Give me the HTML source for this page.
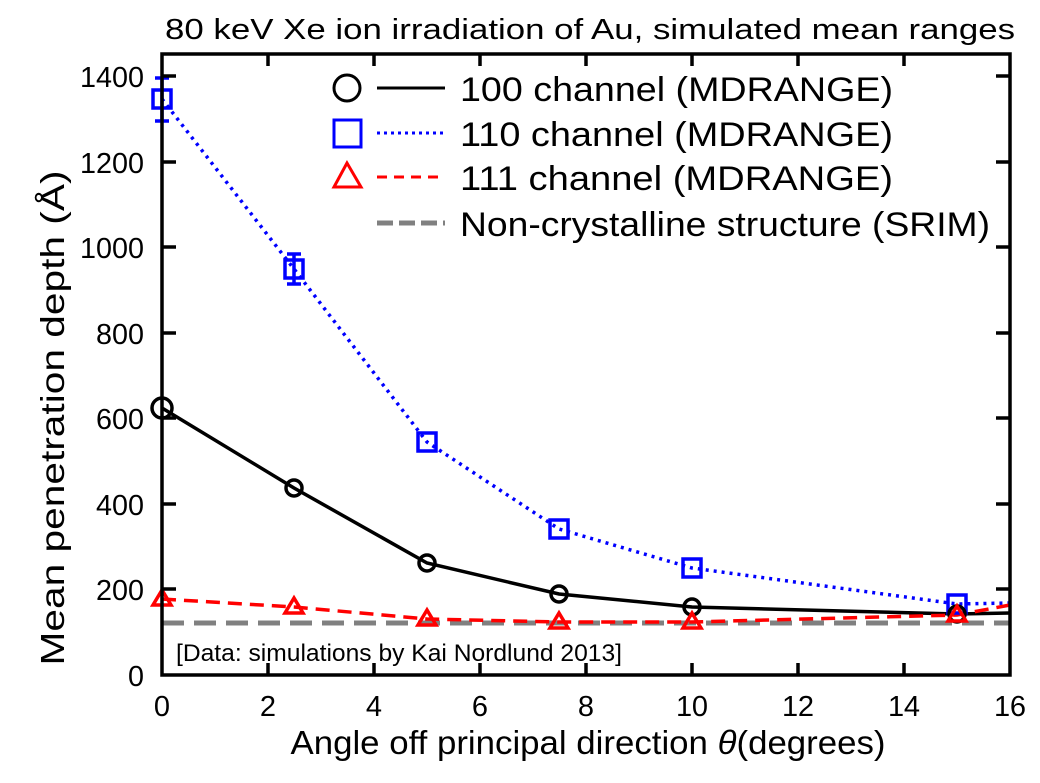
<!DOCTYPE html>
<html><head><style>body{margin:0;background:#fff}svg{display:block}</style></head><body>
<svg width="1040" height="783" xmlns="http://www.w3.org/2000/svg" style="font-family:'Liberation Sans',Arial,sans-serif">
<rect width="1040" height="783" fill="#fff"/>
<text x="590" y="39" font-size="29" text-anchor="middle" textLength="850" lengthAdjust="spacingAndGlyphs">80 keV Xe ion irradiation of Au, simulated mean ranges</text>
<polyline fill="none" stroke="#808080" stroke-width="5" stroke-dasharray="22,10" points="162,623 1010,623"/>
<polyline fill="none" stroke="#00f" stroke-width="3.5" stroke-dasharray="3,5" points="162,99 294,269 427,442 559,529 692,568 957,604 1010,603"/>
<polyline fill="none" stroke="#000" stroke-width="3.5" points="162,408 294,488 427,563 559,594 692,607 957,614 1010,613"/>
<polyline fill="none" stroke="#f00" stroke-width="3.5" stroke-dasharray="14,8" points="162,599 294,607 427,619 559,622 692,622 957,615 1010,605"/>
<g stroke="#00f" stroke-width="3.5">
<line x1="162" y1="78" x2="162" y2="121"/><line x1="155" y1="78" x2="169" y2="78"/><line x1="155" y1="121" x2="169" y2="121"/>
<line x1="294" y1="254" x2="294" y2="284"/><line x1="287" y1="254" x2="301" y2="254"/><line x1="287" y1="284" x2="301" y2="284"/>
</g>
<g fill="none" stroke="#00f" stroke-width="3.5">
<rect x="153" y="90" width="18" height="18"/><rect x="285" y="260" width="18" height="18"/><rect x="418" y="433" width="18" height="18"/><rect x="550" y="520" width="18" height="18"/><rect x="683" y="559" width="18" height="18"/><rect x="948" y="595" width="18" height="18"/>
</g>
<g fill="none" stroke="#000" stroke-width="3.5">
<circle cx="162" cy="408" r="10"/><circle cx="294" cy="488" r="8"/><circle cx="427" cy="563" r="8"/><circle cx="559" cy="594" r="8"/><circle cx="692" cy="607" r="8"/><circle cx="957" cy="614" r="8"/>
</g>
<g fill="none" stroke="#f00" stroke-width="3.5">
<polygon points="162,590 153,605 171,605"/><polygon points="294,598 285,613 303,613"/><polygon points="427,610 418,625 436,625"/><polygon points="559,613 550,628 568,628"/><polygon points="692,613 683,628 701,628"/><polygon points="957,606 948,621 966,621"/>
</g>
<rect x="162" y="54" width="848" height="621" fill="none" stroke="#000" stroke-width="3.5"/>
<g stroke="#000" stroke-width="3.5">
<line x1="268" y1="675" x2="268" y2="663"/><line x1="374" y1="675" x2="374" y2="663"/><line x1="480" y1="675" x2="480" y2="663"/><line x1="586" y1="675" x2="586" y2="663"/><line x1="692" y1="675" x2="692" y2="663"/><line x1="798" y1="675" x2="798" y2="663"/><line x1="904" y1="675" x2="904" y2="663"/>
<line x1="268" y1="54" x2="268" y2="66"/><line x1="374" y1="54" x2="374" y2="66"/><line x1="480" y1="54" x2="480" y2="66"/><line x1="586" y1="54" x2="586" y2="66"/><line x1="692" y1="54" x2="692" y2="66"/><line x1="798" y1="54" x2="798" y2="66"/><line x1="904" y1="54" x2="904" y2="66"/>
<line x1="162" y1="589" x2="176" y2="589"/><line x1="162" y1="504" x2="176" y2="504"/><line x1="162" y1="418" x2="176" y2="418"/><line x1="162" y1="333" x2="176" y2="333"/><line x1="162" y1="247" x2="176" y2="247"/><line x1="162" y1="162" x2="176" y2="162"/><line x1="162" y1="76" x2="176" y2="76"/>
<line x1="1010" y1="589" x2="996" y2="589"/><line x1="1010" y1="504" x2="996" y2="504"/><line x1="1010" y1="418" x2="996" y2="418"/><line x1="1010" y1="333" x2="996" y2="333"/><line x1="1010" y1="247" x2="996" y2="247"/><line x1="1010" y1="162" x2="996" y2="162"/><line x1="1010" y1="76" x2="996" y2="76"/>
</g>
<g font-size="29" text-anchor="middle" lengthAdjust="spacingAndGlyphs">
<text x="162" y="716" textLength="16">0</text><text x="268" y="716" textLength="16">2</text><text x="374" y="716" textLength="16">4</text><text x="480" y="716" textLength="16">6</text><text x="586" y="716" textLength="16">8</text><text x="692" y="716" textLength="32">10</text><text x="798" y="716" textLength="32">12</text><text x="904" y="716" textLength="32">14</text><text x="1010" y="716" textLength="32">16</text>
</g>
<g font-size="29" text-anchor="end">
<text x="144" y="686" textLength="16" lengthAdjust="spacingAndGlyphs">0</text><text x="144" y="600" textLength="48" lengthAdjust="spacingAndGlyphs">200</text><text x="144" y="515" textLength="48" lengthAdjust="spacingAndGlyphs">400</text><text x="144" y="429" textLength="48" lengthAdjust="spacingAndGlyphs">600</text><text x="144" y="344" textLength="48" lengthAdjust="spacingAndGlyphs">800</text><text x="144" y="258" textLength="64" lengthAdjust="spacingAndGlyphs">1000</text><text x="144" y="173" textLength="64" lengthAdjust="spacingAndGlyphs">1200</text><text x="144" y="87" textLength="64" lengthAdjust="spacingAndGlyphs">1400</text>
</g>
<text x="588" y="754" font-size="33" text-anchor="middle" textLength="595" lengthAdjust="spacingAndGlyphs">Angle off principal direction <tspan font-style="italic">θ</tspan>(degrees)</text>
<text transform="translate(64,418) rotate(-90)" font-size="33" text-anchor="middle" textLength="495" lengthAdjust="spacingAndGlyphs">Mean penetration depth (Å)</text>
<text x="176" y="661" font-size="24" textLength="446" lengthAdjust="spacingAndGlyphs">[Data: simulations by Kai Nordlund 2013]</text>
<circle cx="347" cy="88" r="13" fill="none" stroke="#000" stroke-width="3"/>
<line x1="377" y1="88" x2="445" y2="88" stroke="#000" stroke-width="3"/>
<rect x="334" y="120" width="27" height="27" fill="none" stroke="#00f" stroke-width="3"/>
<line x1="377" y1="133" x2="445" y2="133" stroke="#00f" stroke-width="3" stroke-dasharray="3,4"/>
<polygon points="347,163 334,187 361,187" fill="none" stroke="#f00" stroke-width="3"/>
<line x1="377" y1="177" x2="445" y2="177" stroke="#f00" stroke-width="3" stroke-dasharray="10,7"/>
<line x1="377" y1="223" x2="445" y2="223" stroke="#808080" stroke-width="5" stroke-dasharray="16,6"/>
<g font-size="34">
<text x="460" y="101" textLength="433" lengthAdjust="spacingAndGlyphs">100 channel (MDRANGE)</text>
<text x="460" y="146" textLength="433" lengthAdjust="spacingAndGlyphs">110 channel (MDRANGE)</text>
<text x="460" y="190" textLength="433" lengthAdjust="spacingAndGlyphs">111 channel (MDRANGE)</text>
<text x="460" y="236" textLength="530" lengthAdjust="spacingAndGlyphs">Non-crystalline structure (SRIM)</text>
</g>
</svg>
</body></html>
